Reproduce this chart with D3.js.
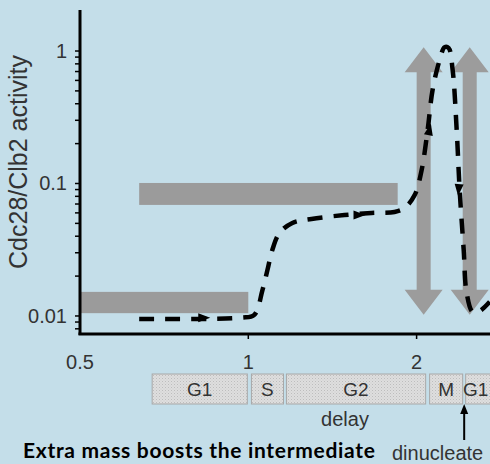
<!DOCTYPE html>
<html>
<head>
<meta charset="utf-8">
<script src="https://cdn.jsdelivr.net/npm/d3@7"></script>
<style>
    body { margin: 0; background: #c4dee9; }
    svg { display: block; }
    .axis-text { font-family: "Liberation Sans", Arial, sans-serif; fill: #333; }
</style>
</head>
<body>
<div id="chart"></div>
<script>

// cell mass (relative) vs Cdc28/Clb2 activity
const curveMass = [0.638, 0.971, 1.025, 1.060, 1.082, 1.104, 1.137, 1.199, 1.297, 1.486, 1.661, 1.826,
    1.903, 1.984, 2.042, 2.093, 2.136, 2.199, 2.245, 2.282, 2.320, 2.359, 2.388, 2.428, 2.458, 2.520, 2.594, 2.703];
const curveActivity = [0.0095, 0.0097, 0.0102, 0.0157, 0.0222, 0.0315, 0.0423, 0.0504, 0.054, 0.0578, 0.0599, 0.061,
    0.0653, 0.0818, 0.1265, 0.2535, 0.508, 0.855, 1.07, 1.054, 0.719, 0.2535, 0.0893, 0.0315, 0.0149, 0.0107, 0.0109, 0.0128];

// small direction arrows sitting on the curve: mass, activity, angle
const flowMass = [0.834, 1.581, 2.11, 2.378];
const flowActivity = [0.0097, 0.0578, 0.2565, 0.0893];
const flowAngle = [0, 0, -78, 95];

// grey threshold bars
const barMassStart = [0.5, 0.638];
const barMassEnd = [1.0, 1.85];
const barLow = [0.0105, 0.0689];
const barHigh = [0.0152, 0.1009];

// double headed arrows
const arrowMass = [2.059, 2.489];
const arrowLow = 0.0102;
const arrowHigh = 1.07;

// cell cycle phases along the mass axis
const phaseLabels = ["G1", "S", "G2", "M", "G1"];
const phaseStart = [0.673, 1.013, 1.170, 2.11, 2.448];
const phaseEnd = [0.996, 1.156, 2.076, 2.418, 2.76];

const xTicks = [0.5, 1, 2];
const xTickLabels = ["0.5", "1", "2"];
const yTicks = [0.01, 0.1, 1];
const yTickLabels = ["0.01", "0.1", "1"];
const yMinorTicks = [0.008, 0.009, 0.02, 0.03, 0.04, 0.05, 0.06, 0.07, 0.08, 0.09,
    0.2, 0.3, 0.4, 0.5, 0.6, 0.7, 0.8, 0.9];


class activityChart {

    constructor(_parentElement) {
        this.parentElement = _parentElement;
        this.initVis();
    }

    initVis() {
        let vis = this;

        vis.width = 490;
        vis.height = 464;

        vis.svg = d3.select("#" + vis.parentElement).append("svg")
            .attr("width", vis.width)
            .attr("height", vis.height);

        vis.svg.append("rect")
            .attr("width", vis.width)
            .attr("height", vis.height)
            .style("fill", "#c4dee9");

        // stipple for the phase boxes
        let pattern = vis.svg.append("defs").append("pattern")
            .attr("id", "stipple")
            .attr("width", 3)
            .attr("height", 3)
            .attr("patternUnits", "userSpaceOnUse");
        pattern.append("rect").attr("width", 3).attr("height", 3).style("fill", "#dedede");
        pattern.append("rect").attr("width", 1).attr("height", 1).style("fill", "#bdbdbd");
        pattern.append("rect").attr("x", 1.5).attr("y", 1.5).attr("width", 1).attr("height", 1).style("fill", "#cacaca");

        // Scales
        vis.x = d3.scaleLog()
            .base(2)
            .domain([0.5, 2.7])
            .range([80, 80 + 168.3 * Math.log2(2.7 / 0.5)]);

        vis.y = d3.scaleLog()
            .domain([0.00731, 2.04])
            .range([334, 10]);

        vis.updateVis();
    }

    updateVis() {
        let vis = this;

        // threshold bars
        vis.svg.selectAll(".bar")
            .data(barMassStart)
            .enter().append("rect")
            .attr("class", "bar")
            .attr("x", (d, i) => vis.x(d))
            .attr("width", (d, i) => vis.x(barMassEnd[i]) - vis.x(d))
            .attr("y", (d, i) => vis.y(barHigh[i]))
            .attr("height", (d, i) => vis.y(barLow[i]) - vis.y(barHigh[i]))
            .style("fill", "#9b9b9b");

        // double arrows
        let shaft = 7, head = 19, headLen = 25;
        vis.svg.selectAll(".bigarrow")
            .data(arrowMass)
            .enter().append("path")
            .attr("class", "bigarrow")
            .attr("d", function (d) {
                let cx = vis.x(d), top = vis.y(arrowHigh), bot = vis.y(arrowLow);
                return "M" + cx + "," + top +
                    "L" + (cx + head) + "," + (top + headLen) +
                    "L" + (cx + shaft) + "," + (top + headLen) +
                    "L" + (cx + shaft) + "," + (bot - headLen) +
                    "L" + (cx + head) + "," + (bot - headLen) +
                    "L" + cx + "," + bot +
                    "L" + (cx - head) + "," + (bot - headLen) +
                    "L" + (cx - shaft) + "," + (bot - headLen) +
                    "L" + (cx - shaft) + "," + (top + headLen) +
                    "L" + (cx - head) + "," + (top + headLen) + "Z";
            })
            .style("fill", "#9c9c9c");

        // activity curve
        let line = d3.line()
            .x((d, i) => vis.x(d))
            .y((d, i) => vis.y(curveActivity[i]))
            .curve(d3.curveCatmullRom.alpha(0.5));

        vis.svg.append("path")
            .datum(curveMass)
            .attr("d", line)
            .style("fill", "none")
            .style("stroke", "black")
            .style("stroke-width", 4.5)
            .style("stroke-dasharray", "15,11");

        vis.svg.selectAll(".flow")
            .data(flowMass)
            .enter().append("path")
            .attr("class", "flow")
            .attr("d", "M6,0L-6,-4.5L-6,4.5Z")
            .attr("transform", (d, i) => "translate(" + vis.x(d) + "," + vis.y(flowActivity[i]) + ") rotate(" + flowAngle[i] + ")")
            .style("fill", "black");

        // axes
        vis.svg.append("line")
            .attr("x1", vis.x(0.5)).attr("x2", vis.x(0.5))
            .attr("y1", 10).attr("y2", 335)
            .style("stroke", "black").style("stroke-width", 3);
        vis.svg.append("line")
            .attr("x1", vis.x(0.5) - 1.5).attr("x2", 490)
            .attr("y1", vis.y(0.00731)).attr("y2", vis.y(0.00731))
            .style("stroke", "black").style("stroke-width", 3);

        vis.svg.selectAll(".ytick")
            .data(yTicks.concat(yMinorTicks))
            .enter().append("line")
            .attr("class", "ytick")
            .attr("x1", vis.x(0.5) - 5).attr("x2", vis.x(0.5))
            .attr("y1", d => vis.y(d)).attr("y2", d => vis.y(d))
            .style("stroke", "black").style("stroke-width", 1.5);

        vis.svg.selectAll(".ylabel")
            .data(yTicks)
            .enter().append("text")
            .attr("class", "ylabel axis-text")
            .attr("x", 67)
            .attr("y", d => vis.y(d) + 7)
            .style("text-anchor", "end")
            .style("font-size", "20px")
            .text((d, i) => yTickLabels[i]);

        vis.svg.selectAll(".xtick")
            .data(xTicks.slice(1))
            .enter().append("line")
            .attr("class", "xtick")
            .attr("x1", d => vis.x(d)).attr("x2", d => vis.x(d))
            .attr("y1", 334).attr("y2", 339)
            .style("stroke", "black").style("stroke-width", 1.5);

        vis.svg.selectAll(".xlabel")
            .data(xTicks)
            .enter().append("text")
            .attr("class", "xlabel axis-text")
            .attr("x", d => vis.x(d))
            .attr("y", 369)
            .style("text-anchor", "middle")
            .style("font-size", "20px")
            .text((d, i) => xTickLabels[i]);

        vis.svg.append("text")
            .attr("class", "axis-text")
            .attr("transform", "translate(27,162) rotate(-90)")
            .style("text-anchor", "middle")
            .style("font-size", "25px")
            .text("Cdc28/Clb2 activity");

        // phase boxes
        vis.svg.selectAll(".phase")
            .data(phaseStart)
            .enter().append("rect")
            .attr("class", "phase")
            .attr("x", d => vis.x(d))
            .attr("width", (d, i) => vis.x(phaseEnd[i]) - vis.x(d))
            .attr("y", 374)
            .attr("height", 30)
            .style("fill", "url(#stipple)")
            .style("stroke", "#a8a8a8")
            .style("stroke-width", 1);

        vis.svg.selectAll(".phasetext")
            .data(phaseStart)
            .enter().append("text")
            .attr("class", "phasetext axis-text")
            .attr("x", (d, i) => (vis.x(d) + vis.x(Math.min(phaseEnd[i], 2.7))) / 2 - (i === 4 ? 2 : 0))
            .attr("y", 396)
            .style("text-anchor", "middle")
            .style("font-size", "19px")
            .text((d, i) => phaseLabels[i]);

        vis.svg.append("text")
            .attr("class", "axis-text")
            .attr("x", 345)
            .attr("y", 426)
            .style("text-anchor", "middle")
            .style("font-size", "20px")
            .text("delay");

        // dinucleate pointer
        let dx = vis.x(2.433);
        vis.svg.append("line")
            .attr("x1", dx).attr("x2", dx)
            .attr("y1", 440).attr("y2", 410)
            .style("stroke", "black").style("stroke-width", 2);
        vis.svg.append("path")
            .attr("d", "M" + dx + ",404L" + (dx - 4) + ",414L" + (dx + 4) + ",414Z")
            .style("fill", "black");

        vis.svg.append("text")
            .attr("class", "axis-text")
            .attr("x", 392)
            .attr("y", 460)
            .style("font-size", "20px")
            .text("dinucleate");

        vis.svg.append("text")
            .attr("x", 23)
            .attr("y", 458)
            .style("font-family", "Lato, sans-serif")
            .style("font-weight", "700")
            .style("font-size", "21px")
            .style("letter-spacing", "0.7px")
            .style("fill", "black")
            .text("Extra mass boosts the intermediate");
    }
}

new activityChart("chart");
</script>
</body>
</html>
